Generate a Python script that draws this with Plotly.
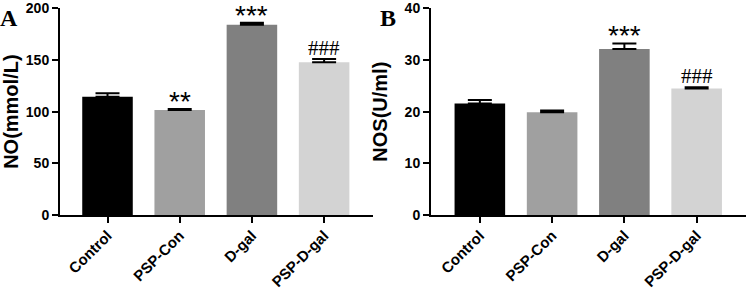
import plotly.graph_objects as go

categories = ["Control", "PSP-Con", "D-gal", "PSP-D-gal"]
colors = ["#000000", "#a0a0a0", "#808080", "#d3d3d3"]

no_values = [114.5, 101.6, 184.1, 147.7]
no_errors = [3.3, 1.0, 2.0, 3.2]
no_marks = ["", "**", "***", "###"]

nos_values = [21.6, 19.9, 32.1, 24.5]
nos_errors = [0.65, 0.3, 1.1, 0.2]
nos_marks = ["", "", "***", "###"]

no_ticks = [0, 50, 100, 150, 200]
nos_ticks = [0, 10, 20, 30, 40]

SANS = "Liberation Sans"
SERIF = "Liberation Serif"
W, H = 747, 289

fig = go.Figure()

def add_panel(vals, errs, xa, ya):
    fig.add_trace(go.Bar(
        x=categories, y=vals, marker=dict(color=colors, line=dict(width=0)),
        width=0.7, xaxis=xa, yaxis=ya, showlegend=False,
        error_y=dict(type="data", array=errs, arrayminus=[0] * len(errs),
                     symmetric=False, color="#000000", thickness=2, width=12),
    ))

add_panel(no_values, no_errors, "x", "y")
add_panel(nos_values, nos_errors, "x2", "y2")

ydom = [(H - 215) / H, (H - 8.3) / H]

axis_common = dict(showline=True, linecolor="black", linewidth=2, ticks="outside",
                   ticklen=6, tickwidth=2, tickcolor="black", showgrid=False,
                   zeroline=False, automargin=False, ticklabeloverflow="allow")

xtickfont = dict(family=SANS, size=15, color="black", weight="bold")
ytickfont = dict(family=SANS, size=14, color="black", weight="bold")
titlefont = dict(family=SANS, size=20, color="black", weight="bold")

fig.update_layout(
    width=W, height=H, margin=dict(l=0, r=0, t=0, b=0, autoexpand=False),
    paper_bgcolor="white", plot_bgcolor="white", bargap=0.3,
    xaxis=dict(domain=[60 / W, 373 / W], anchor="y", range=[-0.658, 3.677],
               tickangle=-45, tickfont=xtickfont, ticklabelstandoff=-2, **axis_common),
    yaxis=dict(domain=ydom, anchor="x", range=[0, 200], tickvals=no_ticks,
               tickfont=ytickfont, title=dict(text="NO(mmol/L)", standoff=8, font=titlefont),
               **axis_common),
    xaxis2=dict(domain=[431 / W, 746 / W], anchor="y2", range=[-0.676, 3.683],
                tickangle=-45, tickfont=xtickfont, ticklabelstandoff=-2, **axis_common),
    yaxis2=dict(domain=ydom, anchor="x2", range=[0, 40], tickvals=nos_ticks,
                tickfont=ytickfont, title=dict(text="NOS(U/ml)", standoff=12, font=titlefont),
                **axis_common),
)

def add_marks(marks, vals, errs, xr, yr):
    for c, m, v, e in zip(categories, marks, vals, errs):
        if not m:
            continue
        is_star = m.startswith("*")
        fig.add_annotation(
            x=c, y=v + e, xref=xr, yref=yr, text=m, showarrow=False,
            yanchor="bottom", yshift=-10 if is_star else -3,
            font=dict(family=SANS if is_star else SERIF, size=28 if is_star else 21,
                      color="black"),
        )

add_marks(no_marks, no_values, no_errors, "x", "y")
add_marks(nos_marks, nos_values, nos_errors, "x2", "y2")

panel_font = dict(family=SERIF, size=24, color="black", weight="bold")
fig.add_annotation(x=-2 / W, y=(H - 3) / H, xref="paper", yref="paper", text="A",
                   showarrow=False, xanchor="left", yanchor="top", font=panel_font)
fig.add_annotation(x=378 / W, y=(H - 3) / H, xref="paper", yref="paper", text="B",
                   showarrow=False, xanchor="left", yanchor="top", font=panel_font)

fig.write_html(
    "out.html",
    config={"displayModeBar": False},
    post_script="document.body.style.margin='0';document.body.style.overflow='hidden';",
)
